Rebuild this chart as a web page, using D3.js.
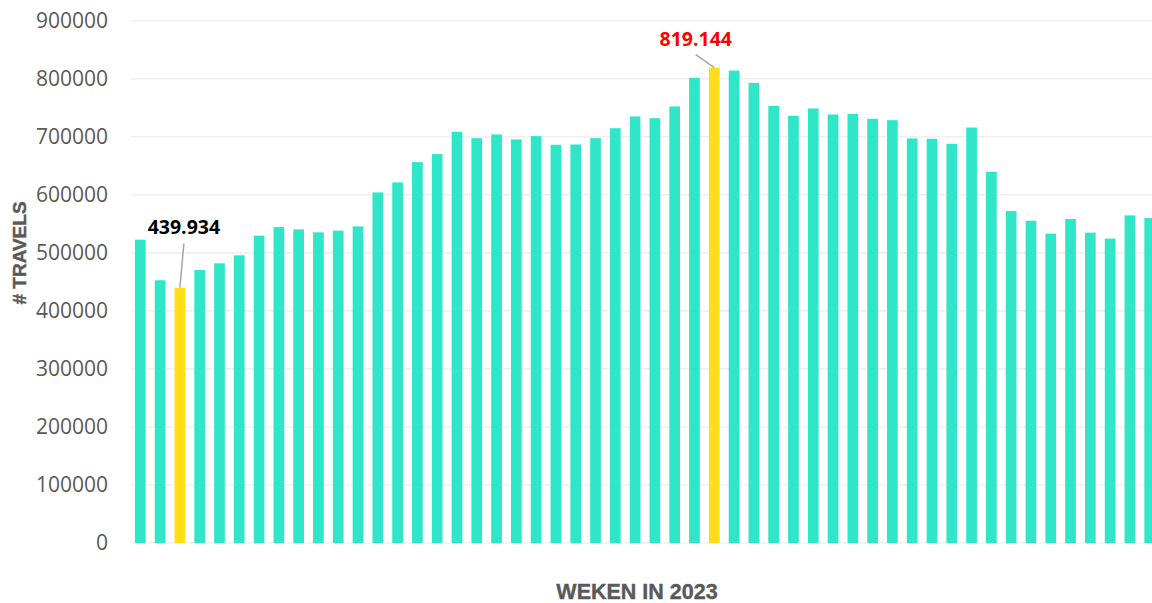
<!DOCTYPE html>
<html>
<head>
<meta charset="utf-8">
<script src="https://cdn.jsdelivr.net/npm/d3@7"></script>
<style>
  html, body { margin: 0; padding: 0; background: #fff; }
  svg { display: block; }
</style>
</head>
<body>
<svg id="chart"></svg>
<script>
// weeks of 2023 and number of travels per week
const weeks = d3.range(1, 53);
const travels = [
  522700, 452700, 439934, 470400, 481900, 495700, 529600, 544400, 540400, 535300,
  538200, 545600, 604100, 621300, 656300, 670100, 708600, 697600, 704000, 695400,
  701100, 686200, 686700, 697600, 714800, 735000, 732000, 752200, 801500, 819144,
  814100, 792900, 753300, 736100, 748700, 738400, 739500, 730900, 728600, 697100,
  696500, 687900, 716000, 639700, 572000, 555400, 533000, 558200, 534800, 524400,
  564500, 559900
];
const yTicks = [0, 100000, 200000, 300000, 400000, 500000, 600000, 700000, 800000, 900000];
const lowWeek = 3;
const highWeek = 30;

const w = 1152;
const h = 603;

const svg = d3.select('#chart').attr('width', w).attr('height', h);

const x = d3
  .scaleBand()
  .domain(weeks)
  .range([131, 1159])
  .paddingInner(0.46)
  .paddingOuter(0.2);

const y = d3.scaleLinear().domain([0, 900000]).range([543, 20.7]);

// gridlines
svg
  .append('g')
  .selectAll('line')
  .data(yTicks)
  .enter()
  .append('line')
  .attr('x1', 131)
  .attr('x2', w)
  .attr('y1', (d) => y(d))
  .attr('y2', (d) => y(d))
  .attr('stroke', '#f0f0f0')
  .attr('stroke-width', 1.6);

// y axis labels
const yAxis = svg
  .append('g')
  .attr('transform', 'translate(108,0)')
  .call(d3.axisLeft(y).tickValues(yTicks).tickFormat(d3.format('d')).tickSize(0).tickPadding(0));
yAxis.select('.domain').remove();
yAxis
  .selectAll('text')
  .attr('fill', '#595959')
  .style('font-family', '"Open Sans", sans-serif')
  .style('font-size', '21px');

// bars
svg
  .append('g')
  .selectAll('rect')
  .data(weeks)
  .enter()
  .append('rect')
  .attr('x', (d) => x(d))
  .attr('width', x.bandwidth())
  .attr('y', (d, i) => y(travels[i]))
  .attr('height', (d, i) => y(0) - y(travels[i]))
  .attr('fill', (d) => (d === lowWeek || d === highWeek ? '#ffde17' : '#2fe6c8'));

// annotations
const fmt = (v) => d3.format(',')(v).replace(/,/g, '.');
const notes = [
  { week: lowWeek, dx: 4, dy: -54, ldy: -44, color: '#000000' },
  { week: highWeek, dx: -18.5, dy: -22, ldy: -13, color: '#ff0000' }
];
notes.forEach((n) => {
  const v = travels[weeks.indexOf(n.week)];
  const cx = x(n.week) + x.bandwidth() / 2;
  svg
    .append('line')
    .attr('x1', cx + n.dx)
    .attr('y1', y(v) + n.ldy)
    .attr('x2', cx)
    .attr('y2', y(v))
    .attr('stroke', '#a6a6a6')
    .attr('stroke-width', 1.5);
  svg
    .append('text')
    .attr('x', cx + n.dx)
    .attr('y', y(v) + n.dy)
    .attr('text-anchor', 'middle')
    .attr('fill', n.color)
    .style('font-family', '"Open Sans", sans-serif')
    .style('font-weight', 'bold')
    .style('font-size', '19.5px')
    .text(fmt(v));
});

// axis titles
svg
  .append('text')
  .attr('transform', 'translate(26,253) rotate(-90)')
  .attr('text-anchor', 'middle')
  .attr('fill', '#595959')
  .style('font-family', '"Liberation Sans", Arial, sans-serif')
  .style('font-weight', 'bold')
  .style('font-size', '19px')
  .style('stroke', '#595959')
  .style('stroke-width', '0.4px')
  .text('# TRAVELS');

svg
  .append('text')
  .attr('x', 637)
  .attr('y', 598.5)
  .attr('text-anchor', 'middle')
  .attr('fill', '#595959')
  .style('font-family', '"Liberation Sans", Arial, sans-serif')
  .style('font-weight', 'bold')
  .style('font-size', '21.5px')
  .style('stroke', '#595959')
  .style('stroke-width', '0.4px')
  .text('WEKEN IN 2023');
</script>
</body>
</html>
